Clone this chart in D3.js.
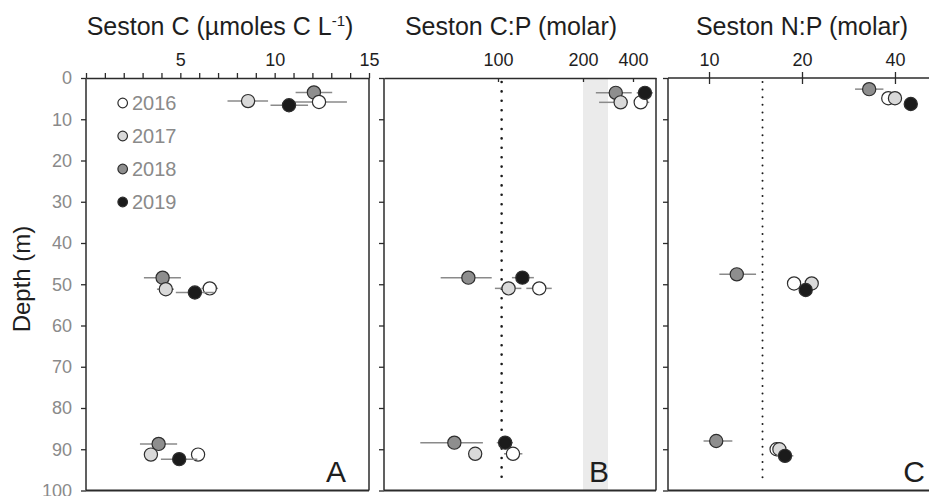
<!DOCTYPE html>
<html><head><meta charset="utf-8">
<script src="https://cdn.jsdelivr.net/npm/d3@7"></script>
<style>
body{margin:0;background:#fff;}
text{font-family:"Liberation Sans",Arial,Helvetica,sans-serif;}
</style></head>
<body><svg id="c" width="929" height="496"></svg>
<script>
// ---------- DATA ----------
const years = ["2016", "2017", "2018", "2019"];
const depthTicks = [0, 10, 20, 30, 40, 50, 60, 70, 80, 90, 100];
const cTicks = [5, 10, 15];
const cpTicks = [100, 200, 400];
const npTicks = [10, 20, 40];

// Panel A: Seston C (rows = years 2016..2019; cols = surface, mid, deep)
const cDepth = [[5.8, 51.0, 91.3], [5.6, 51.2, 91.3], [3.5, 48.4, 88.7], [6.6, 52.0, 92.4]];
const cValue = [[12.35, 6.56, 5.94], [8.59, 4.23, 3.44], [12.08, 4.06, 3.85], [10.76, 5.77, 4.94]];
const cLow   = [[10.87, 6.12, 5.64], [7.5, 3.76, 3.2], [11.11, 3.07, 2.86], [9.78, 4.76, 3.97]];
const cHigh  = [[13.83, 7.0, 6.24], [9.65, 4.66, 3.68], [13.05, 5.03, 4.83], [11.77, 6.78, 5.9]];

// Panel B: Seston C:P (molar)
const cpDepth = [[5.9, 51.0, 91.1], [5.9, 51.0, 91.1], [3.6, 48.4, 88.4], [3.6, 48.4, 88.4]];
const cpValue = [[445, 140, 113], [337, 109, 83], [315, 78.5, 70], [472, 122, 106]];
const cpLow   = [[411, 126, 105], [250, 97.5, 81], [239, 62.6, 53], [421, 112, 99]];
const cpHigh  = [[501, 155, 122], [373, 121, 85], [393, 95, 88.4], [527, 134, 113]];
const cpRef = 103;           // dotted reference line
const cpBand = [200, 283];   // shaded band

// Panel C: Seston N:P (molar)
const npDepth = [[4.9, 49.8, 90.0], [4.9, 49.8, 90.0], [2.7, 47.6, 88.0], [6.3, 51.4, 91.6]];
const npValue = [[38.05, 18.85, 16.55], [40.0, 21.5, 16.9], [33.0, 12.3, 10.55], [45.0, 20.56, 17.62]];
const npLow   = [[37.5, 18.6, 16.3], [39.5, 21.2, 16.6], [29.7, 10.8, 9.6], [44.3, 20.2, 16.55]];
const npHigh  = [[38.6, 19.1, 16.8], [40.5, 21.8, 17.2], [36.7, 14.2, 11.9], [45.7, 20.9, 18.75]];
const npRef = 14.9;

// ---------- STYLE ----------
const fills = {"2016": "#ffffff", "2017": "#d9d9d9", "2018": "#8e8e8e", "2019": "#1b1b1b"};
const drawOrder = [2, 0, 1, 3]; // 2018, 2016, 2017, 2019
const frameCol = "#2b2b2b";

const svg = d3.select("#c");
const y = d3.scaleLinear().domain([0, 100]).range([78, 490.5]);
const yTop = y(0), yBot = y(100);

const xA = d3.scaleLinear().domain([0, 15]).range([86, 369]);
const xB = d3.scaleLog().domain([39.4, 100, 200, 400, 550]).range([384, 498, 583, 633, 656]);
const xC = d3.scaleLog().domain([7.365, 51.55]).range([668, 929]);

// Gray band (B)
svg.append("rect")
  .attr("x", xB(cpBand[0])).attr("y", yTop)
  .attr("width", xB(cpBand[1]) - xB(cpBand[0])).attr("height", yBot - yTop)
  .attr("fill", "#ebebeb");

// Dotted reference lines
svg.append("line").attr("x1", xB(cpRef)).attr("x2", xB(cpRef))
  .attr("y1", yTop + 4).attr("y2", yBot - 6)
  .attr("stroke", "#1a1a1a").attr("stroke-width", 2.6)
  .attr("stroke-linecap", "round").attr("stroke-dasharray", "0 9.4");
svg.append("line").attr("x1", xC(npRef)).attr("x2", xC(npRef))
  .attr("y1", yTop + 4).attr("y2", yBot - 6)
  .attr("stroke", "#1a1a1a").attr("stroke-width", 2)
  .attr("stroke-linecap", "round").attr("stroke-dasharray", "0 7.6");

// Frames
function frame(x0, x1, closeRight) {
  const g = svg.append("g").attr("fill", "none").attr("stroke", frameCol);
  g.append("line").attr("x1", x0).attr("x2", x0).attr("y1", yTop).attr("y2", yBot).attr("stroke-width", 1.5);
  g.append("line").attr("x1", x0).attr("x2", x1).attr("y1", yBot).attr("y2", yBot).attr("stroke-width", 2);
  if (closeRight) g.append("line").attr("x1", x1).attr("x2", x1).attr("y1", yTop).attr("y2", yBot).attr("stroke-width", 1.5);
}
frame(xA.range()[0], xA.range()[1], true);
frame(xB.range()[0], xB.range()[4], true);
frame(xC.range()[0], 935, false);

// Y axes (ticks on each panel)
function yAxis(x0, labels) {
  const g = svg.append("g").attr("transform", `translate(${x0},0)`)
    .call(d3.axisLeft(y).tickValues(depthTicks).tickSize(5).tickSizeOuter(0).tickPadding(9)
      .tickFormat(labels ? d3.format("d") : ""));
  g.select(".domain").remove();
  g.selectAll(".tick line").attr("stroke", frameCol).attr("stroke-width", 1.3);
  g.selectAll(".tick text").attr("fill", "#8a8a8a").attr("font-size", 18)
    .attr("font-family", "Liberation Sans, Arial, sans-serif");
}
yAxis(xA.range()[0], true);
yAxis(xB.range()[0], false);
yAxis(xC.range()[0], false);

// Top axes
function styleTop(g) {
  g.select(".domain").attr("stroke", frameCol).attr("stroke-width", 1.5);
  g.selectAll(".tick line").attr("stroke", frameCol).attr("stroke-width", 1.3);
  g.selectAll(".tick text").attr("fill", "#1e1e1e").attr("font-size", 18)
    .attr("font-family", "Liberation Sans, Arial, sans-serif");
}
const gA = svg.append("g").attr("transform", `translate(0,${yTop})`)
  .call(d3.axisTop(xA).tickValues(d3.range(0, 16)).tickSize(5).tickSizeOuter(0).tickPadding(7)
    .tickFormat(d => cTicks.includes(d) ? d : ""));
styleTop(gA);

const gB = svg.append("g").attr("transform", `translate(0,${yTop})`)
  .call(d3.axisTop(xB).tickValues(cpTicks).tickSize(-4).tickSizeOuter(0).tickPadding(12)
    .tickFormat(d3.format("d")));
styleTop(gB);

const gC = svg.append("g").attr("transform", `translate(0,${yTop})`)
  .call(d3.axisTop(xC).tickValues(npTicks).tickSize(0).tickSizeOuter(0).tickPadding(12)
    .tickFormat(d3.format("d")));
styleTop(gC);
gC.select(".domain").attr("d", `M${xC.range()[0]},0H935`);
gC.selectAll(".tick").append("line").attr("y1", -6).attr("y2", 6)
  .attr("stroke", frameCol).attr("stroke-width", 1.3);

// Data points
function drawPanel(x, depth, val, lo, hi) {
  const g = svg.append("g");
  const groups = [0, 1, 2];
  drawOrder.forEach(yi => {
    groups.forEach(k => {
      const yy = y(depth[yi][k]);
      g.append("line").attr("x1", x(lo[yi][k])).attr("x2", x(hi[yi][k]))
        .attr("y1", yy).attr("y2", yy)
        .attr("stroke", "#8a8a8a").attr("stroke-width", 1.5);
      g.append("circle").attr("cx", x(val[yi][k])).attr("cy", yy).attr("r", 6.6)
        .attr("fill", fills[years[yi]]).attr("stroke", "#2e2e2e").attr("stroke-width", 1.2);
    });
  });
}
drawPanel(xA, cDepth, cValue, cLow, cHigh);
drawPanel(xB, cpDepth, cpValue, cpLow, cpHigh);
drawPanel(xC, npDepth, npValue, npLow, npHigh);

// Legend
const leg = svg.append("g");
years.forEach((yr, i) => {
  const cy = 103 + i * 33;
  leg.append("circle").attr("cx", 122.7).attr("cy", cy).attr("r", 4.8)
    .attr("fill", fills[yr]).attr("stroke", "#2e2e2e").attr("stroke-width", 1.2);
  leg.append("text").attr("x", 132).attr("y", cy + 7.3).attr("font-size", 20)
    .attr("fill", "#8a8a8a").text(yr);
});

// Titles
const tA = svg.append("text").attr("x", 220).attr("y", 35).attr("text-anchor", "middle")
  .attr("font-size", 25).attr("fill", "#1e1e1e");
tA.append("tspan").text("Seston C (µmoles C L");
tA.append("tspan").attr("font-size", 15).attr("dy", -9).text("-1");
tA.append("tspan").attr("dy", 9).text(")");
svg.append("text").attr("x", 511).attr("y", 35).attr("text-anchor", "middle")
  .attr("font-size", 25).attr("fill", "#1e1e1e").text("Seston C:P (molar)");
svg.append("text").attr("x", 802).attr("y", 35).attr("text-anchor", "middle")
  .attr("font-size", 25).attr("fill", "#1e1e1e").text("Seston N:P (molar)");

// Y-axis title
svg.append("text").attr("transform", "translate(30,279) rotate(-90)")
  .attr("text-anchor", "middle").attr("font-size", 24).attr("fill", "#1e1e1e").text("Depth (m)");

// Panel letters
[["A", 346], ["B", 609], ["C", 925]].forEach(([t, x]) => {
  svg.append("text").attr("x", x).attr("y", 482).attr("text-anchor", "end")
    .attr("font-size", 30).attr("fill", "#1e1e1e").text(t);
});
</script></body></html>
